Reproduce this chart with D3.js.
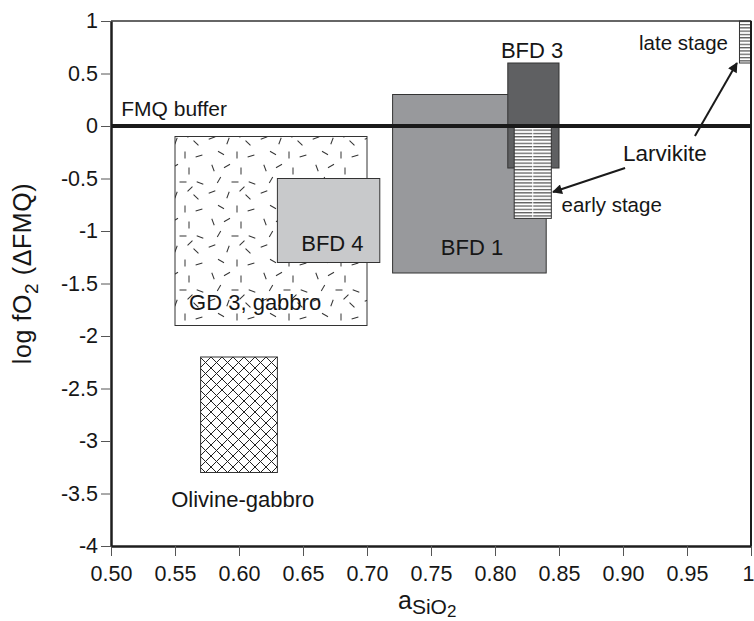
<!DOCTYPE html>
<html>
<head>
<meta charset="utf-8">
<script src="https://cdn.jsdelivr.net/npm/d3@7"></script>
<style>
    body { margin: 0; background: #fff; }
    svg text { font-family: "Liberation Sans", Arial, Helvetica, sans-serif; fill: #161616; }
    .axis path { stroke: #1e1e1e; stroke-width: 2.5px; }
    .axis line { stroke: #555; stroke-width: 1px; }
    .axis text { font-size: 21.5px; fill: #161616; }
</style>
</head>
<body>
<div id="chart"></div>
<script>
// axis ticks
const xTicks = [0.50, 0.55, 0.60, 0.65, 0.70, 0.75, 0.80, 0.85, 0.90, 0.95, 1];
const xTickLabels = ["0.50", "0.55", "0.60", "0.65", "0.70", "0.75", "0.80", "0.85", "0.90", "0.95", "1"];
const yTicks = [1, 0.5, 0, -0.5, -1, -1.5, -2, -2.5, -3, -3.5, -4];
const yTickLabels = ["1", "0.5", "0", "-0.5", "-1", "-1.5", "-2", "-2.5", "-3", "-3.5", "-4"];

// fields: name, x range, top / bottom log fO2, fill
const fieldNames = ["GD 3, gabbro", "Olivine-gabbro", "BFD 4", "BFD 1", "BFD 3", "Larvikite early", "Larvikite late"];
const fieldX0 = [0.55, 0.57, 0.63, 0.72, 0.81, 0.815, 0.991];
const fieldX1 = [0.70, 0.63, 0.71, 0.84, 0.85, 0.844, 1.0];
const fieldTop = [-0.1, -2.2, -0.5, 0.3, 0.6, 0.0, 1.0];
const fieldBottom = [-1.9, -3.3, -1.3, -1.4, -0.4, -0.88, 0.6];
const fieldFill = ["url(#dashes)", "url(#cross)", "#c8c9cb", "#98999c", "#5f6062", "url(#hlines)", "url(#hlines)"];

// text labels
const labelText = ["GD 3, gabbro", "Olivine-gabbro", "BFD 4", "BFD 1", "BFD 3", "FMQ buffer", "late stage", "Larvikite", "early stage"];
const labelX = [0.561, 0.547, 0.673, 0.782, 0.829, 0.508, 0.982, 0.900, 0.852];
const labelY = [-1.75, -3.63, -1.19, -1.23, 0.65, 0.095, 0.724, -0.333, -0.82];
const labelAnchor = ["start", "start", "middle", "middle", "middle", "start", "end", "start", "start"];
const labelSize = [22, 22, 22, 22, 22, 21, 20.5, 22.5, 20.5];

// arrows: tail -> head
const arrowX0 = [0.9016, 0.9562];
const arrowY0 = [-0.40, -0.095];
const arrowX1 = [0.8453, 0.989];
const arrowY1 = [-0.629, 0.60];

const fmqValue = 0;

class FO2Chart {
    constructor() {
        this.width = 754;
        this.height = 621;
        this.margin = {top: 21, right: 3, bottom: 75, left: 111};
        this.draw();
    }

    draw() {
        let m = this.margin;
        let svg = d3.select('#chart').append('svg')
            .attr('width', this.width)
            .attr('height', this.height);

        const x = d3.scaleLinear().domain([0.5, 1]).range([m.left, this.width - m.right]);
        const y = d3.scaleLinear().domain([-4, 1]).range([this.height - m.bottom, m.top]);

        this.makePatterns(svg);

        // fields
        let fields = fieldNames.map((n, i) => ({
            name: n, x0: fieldX0[i], x1: fieldX1[i], y0: fieldTop[i], y1: fieldBottom[i], fill: fieldFill[i]
        }));
        svg.append('g').selectAll('rect').data(fields).join('rect')
            .attr('x', d => x(d.x0))
            .attr('y', d => y(d.y0))
            .attr('width', d => x(d.x1) - x(d.x0))
            .attr('height', d => y(d.y1) - y(d.y0))
            .attr('fill', d => d.fill)
            .attr('stroke', '#333')
            .attr('stroke-width', 1);

        // white seam down the middle of the early stage hatch
        let early = fields[5];
        svg.append('line')
            .attr('x1', x((early.x0 + early.x1) / 2)).attr('x2', x((early.x0 + early.x1) / 2))
            .attr('y1', y(early.y0) + 1).attr('y2', y(early.y1) - 1)
            .attr('stroke', '#fff').attr('stroke-width', 1);

        // frame top and right
        svg.append('line')
            .attr('x1', x(0.5)).attr('x2', x(1))
            .attr('y1', y(1)).attr('y2', y(1))
            .attr('stroke', '#333').attr('stroke-width', 1.5);
        svg.append('line')
            .attr('x1', x(1)).attr('x2', x(1))
            .attr('y1', y(1)).attr('y2', y(-4))
            .attr('stroke', '#1e1e1e').attr('stroke-width', 2);

        // FMQ buffer
        svg.append('line')
            .attr('x1', x(0.5)).attr('x2', x(1))
            .attr('y1', y(fmqValue)).attr('y2', y(fmqValue))
            .attr('stroke', '#1a1a1a').attr('stroke-width', 4);

        // axes
        let xAxis = svg.append('g').attr('class', 'axis')
            .attr('transform', `translate(0,${y(-4)})`)
            .call(d3.axisBottom(x).tickValues(xTicks).tickSize(10).tickSizeOuter(0).tickPadding(10)
                .tickFormat((d, i) => xTickLabels[i]));
        // last label sits at the window edge
        xAxis.selectAll('.tick text').filter(d => d === 1).attr('text-anchor', 'end').attr('dx', 3);
        svg.append('g').attr('class', 'axis')
            .attr('transform', `translate(${x(0.5)},0)`)
            .call(d3.axisLeft(y).tickValues(yTicks).tickSize(10).tickSizeOuter(0).tickPadding(3)
                .tickFormat((d, i) => yTickLabels[i]));

        // labels
        svg.append('g').selectAll('text').data(labelText).join('text')
            .attr('x', (d, i) => x(labelX[i]))
            .attr('y', (d, i) => y(labelY[i]))
            .attr('text-anchor', (d, i) => labelAnchor[i])
            .style('font-size', (d, i) => labelSize[i] + 'px')
            .text(d => d);

        // arrows
        let arrows = arrowX0.map((v, i) => [x(v), y(arrowY0[i]), x(arrowX1[i]), y(arrowY1[i])]);
        svg.append('g').selectAll('line').data(arrows).join('line')
            .attr('x1', d => d[0]).attr('y1', d => d[1])
            .attr('x2', d => d[2]).attr('y2', d => d[3])
            .attr('stroke', '#1a1a1a').attr('stroke-width', 2)
            .attr('marker-end', 'url(#head)');

        // axis titles
        let yt = svg.append('text')
            .attr('transform', `translate(31,${(y(1) + y(-4)) / 2 - 10}) rotate(-90)`)
            .attr('text-anchor', 'middle')
            .style('font-size', '25px')
            .style('letter-spacing', '0.6px');
        yt.append('tspan').text('log fO');
        yt.append('tspan').attr('dy', 7).style('font-size', '19px').text('2');
        yt.append('tspan').attr('dy', -7).text(' (ΔFMQ)');

        let xt = svg.append('text')
            .attr('x', x(0.75) - 33)
            .attr('y', 609)
            .style('font-size', '25px');
        xt.append('tspan').text('a');
        xt.append('tspan').attr('dy', 5).style('font-size', '21px').text('SiO');
        xt.append('tspan').attr('dy', 3).style('font-size', '17px').text('2');
    }

    makePatterns(svg) {
        let defs = svg.append('defs');

        // horizontal hatching
        let h = defs.append('pattern').attr('id', 'hlines')
            .attr('patternUnits', 'userSpaceOnUse')
            .attr('width', 6).attr('height', 3.3);
        h.append('rect').attr('width', 6).attr('height', 3.3).attr('fill', '#fff');
        h.append('rect').attr('y', 1).attr('width', 6).attr('height', 1).attr('fill', '#333');

        // cross hatching
        let c = defs.append('pattern').attr('id', 'cross')
            .attr('patternUnits', 'userSpaceOnUse')
            .attr('x', 200).attr('y', 357)
            .attr('width', 11).attr('height', 11);
        c.append('rect').attr('width', 11).attr('height', 11).attr('fill', '#fff');
        c.append('path').attr('d', 'M0,0L11,11M11,0L0,11M-1,10L1,12M10,-1L12,1')
            .attr('stroke', '#222').attr('stroke-width', 1).attr('fill', 'none');

        // scattered dashes (texture only)
        const dashCx = [5, 19, 33, 44, 11, 27, 40, 4, 20, 34, 13, 29, 43];
        const dashCy = [6, 4, 9, 21, 18, 20, 35, 30, 33, 27, 45, 47, 48];
        const dashAng = [70, -30, 90, 20, -60, 0, 45, -20, 110, -45, 30, 90, -15];
        let t = defs.append('pattern').attr('id', 'dashes')
            .attr('patternUnits', 'userSpaceOnUse')
            .attr('width', 52).attr('height', 54);
        t.append('rect').attr('width', 52).attr('height', 54).attr('fill', '#fff');
        t.selectAll('line').data(dashCx).join('line')
            .attr('x1', -3.5).attr('x2', 3.5).attr('y1', 0).attr('y2', 0)
            .attr('transform', (d, i) => `translate(${d},${dashCy[i]}) rotate(${dashAng[i]})`)
            .attr('stroke', '#333').attr('stroke-width', 1);

        // arrow head
        defs.append('marker').attr('id', 'head')
            .attr('viewBox', '0 0 10 10')
            .attr('refX', 9).attr('refY', 5)
            .attr('markerUnits', 'userSpaceOnUse')
            .attr('markerWidth', 14).attr('markerHeight', 10)
            .attr('orient', 'auto')
            .append('path').attr('d', 'M0,0L10,5L0,10Z').attr('fill', '#1a1a1a');
    }
}

new FO2Chart();
</script>
</body>
</html>
